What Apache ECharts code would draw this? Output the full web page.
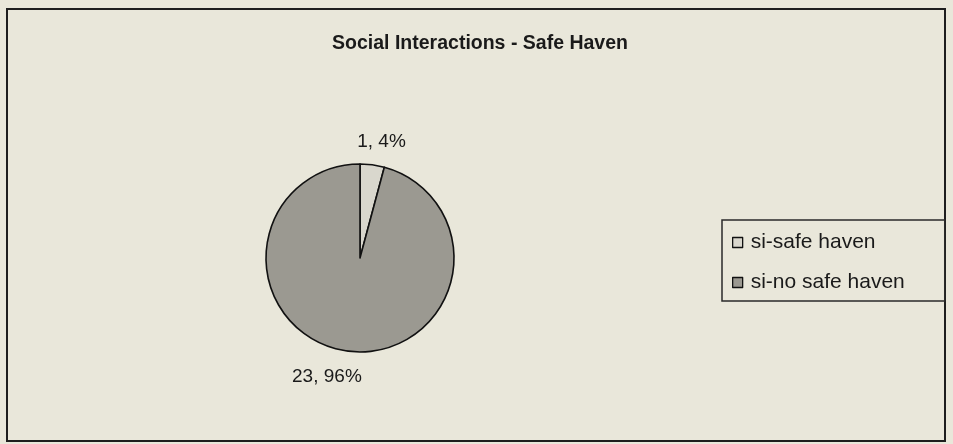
<!DOCTYPE html>
<html>
<head>
<meta charset="utf-8">
<script src="https://cdn.jsdelivr.net/npm/echarts@6/dist/echarts.min.js"></script>
<style>
  html, body { margin: 0; padding: 0; background: #e9e7da; }
  #chart { width: 953px; height: 444px; }
</style>
</head>
<body>
<div id="chart"></div>
<script>
// Categories and counts for the pie
const categories = ['si-safe haven', 'si-no safe haven'];
const counts = [1, 23];
const sliceColors = ['#d9d7cd', '#9b9991'];

// Small nudges applied to each slice's value label
const labelShift = [
  { dx: -52, dy: -8 },
  { dx: 51, dy: 11 }
];

const FONT = 'Liberation Sans, Arial, sans-serif';
const chart = echarts.init(document.getElementById('chart'), null, { renderer: 'canvas' });

const total = counts.reduce((a, b) => a + b, 0);

chart.setOption({
  backgroundColor: '#e9e7da',
  animation: false,
  title: {
    text: 'Social Interactions - Safe Haven',
    left: 475,
    textAlign: 'center',
    top: 29,
    textStyle: { fontFamily: FONT, fontSize: 19.5, fontWeight: 'bold', color: '#1a1a1a' }
  },
  graphic: [{
    type: 'rect',
    shape: { x: 7, y: 9, width: 938, height: 432 },
    style: { fill: 'none', stroke: '#1e1e1e', lineWidth: 2 },
    silent: true
  }],
  legend: {
    orient: 'vertical',
    left: 722,
    top: 220,
    data: categories,
    icon: 'rect',
    itemWidth: 10,
    itemHeight: 10,
    itemGap: 19,
    padding: [12, 40, 8, 10],
    borderColor: '#2a2a2a',
    borderWidth: 1.5,
    textStyle: { fontFamily: FONT, fontSize: 21, color: '#1a1a1a', padding: [0, 0, 0, 3] },
    itemStyle: { borderColor: '#111', borderWidth: 1.3 }
  },
  series: [{
    type: 'pie',
    center: [360, 258],
    radius: 94,
    startAngle: 90,
    clockwise: true,
    data: categories.map((name, i) => ({
      name,
      value: counts[i],
      itemStyle: { color: sliceColors[i] }
    })),
    itemStyle: { borderColor: '#111', borderWidth: 1.6 },
    label: {
      show: true,
      position: 'outside',
      formatter: p => p.value + ', ' + Math.round(p.value / total * 100) + '%',
      fontFamily: FONT,
      fontSize: 19,
      color: '#1a1a1a'
    },
    labelLine: { show: false },
    labelLayout: p => labelShift[p.dataIndex],
    emphasis: { disabled: true }
  }]
});
</script>
</body>
</html>
